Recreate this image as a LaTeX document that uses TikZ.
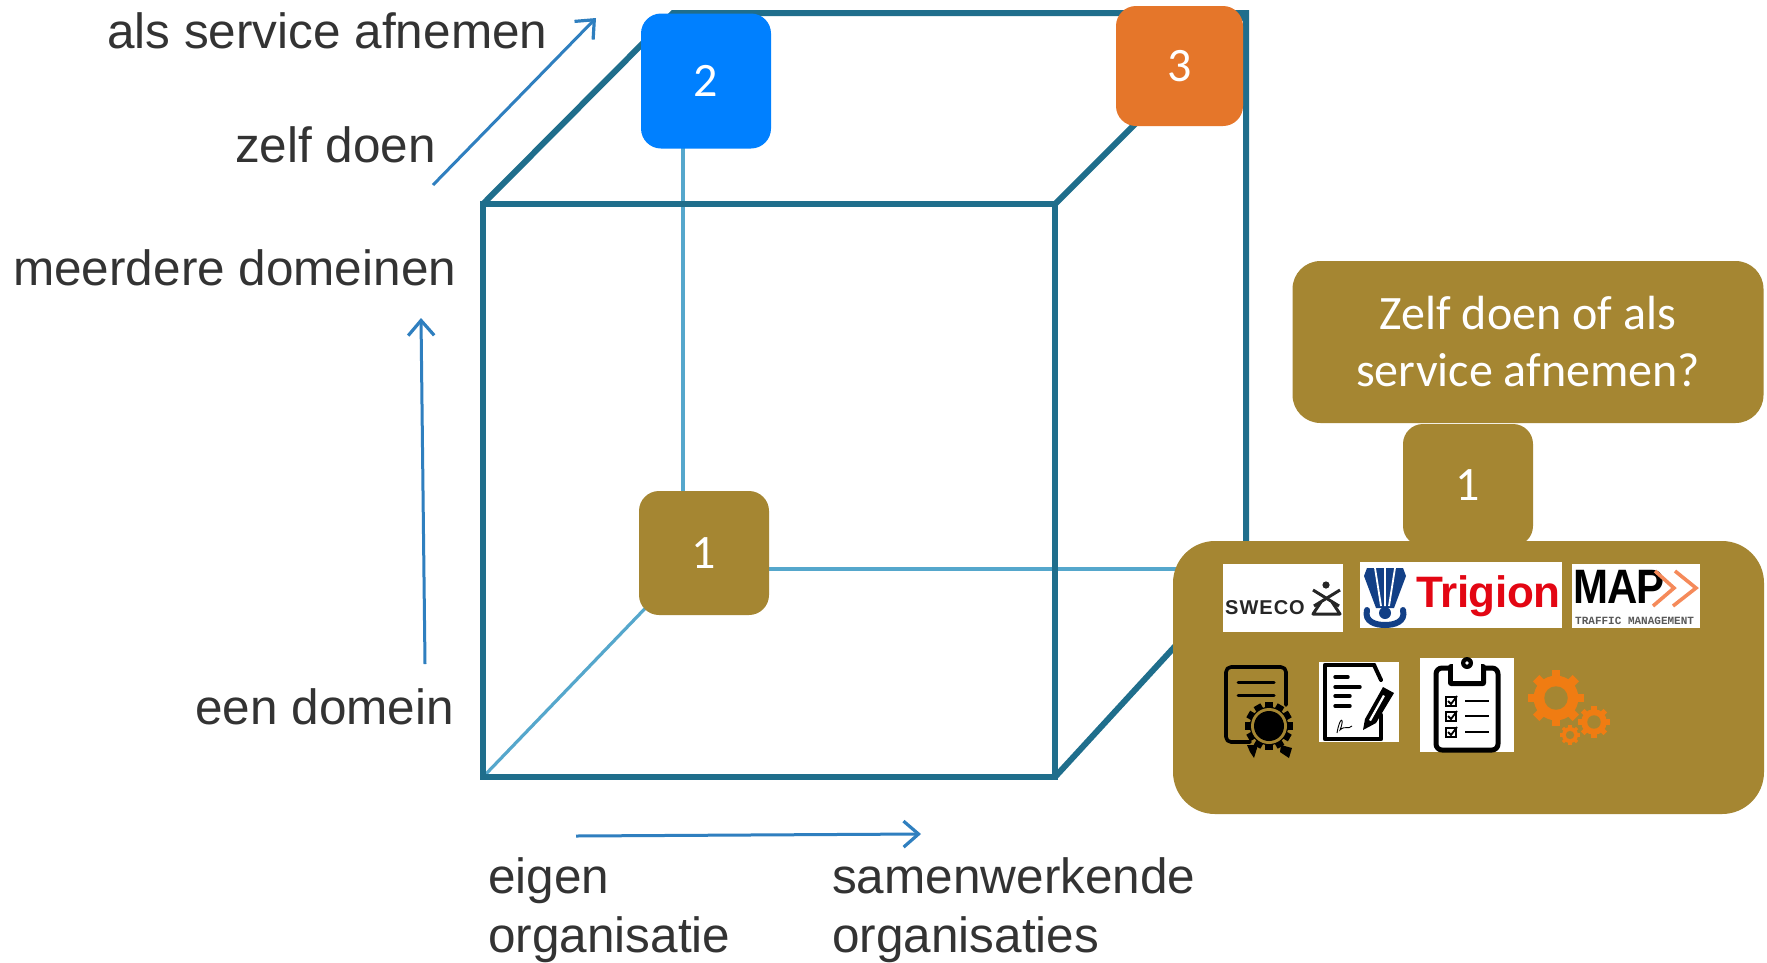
\documentclass[tikz,border=0pt]{standalone}
\usepackage{fontspec}
\setmainfont{Liberation Sans}
\newfontfamily\calib{Carlito}
\newfontfamily\monof{Liberation Mono}
\usetikzlibrary{arrows.meta,calc}
\definecolor{gold}{HTML}{A58632}
\definecolor{boxblue}{HTML}{0080FF}
\definecolor{boxorange}{HTML}{E5762A}
\definecolor{cubeline}{HTML}{1F6E8C}
\definecolor{thinline}{HTML}{55A7CC}
\definecolor{axisblue}{HTML}{2F7FBF}
\definecolor{labelgray}{HTML}{333333}
\definecolor{gearorange}{HTML}{F07C12}
\definecolor{trigred}{HTML}{E30613}
\definecolor{trigblue}{HTML}{123F86}
\definecolor{mapor}{HTML}{F58A5A}
\newcommand{\gearicon}[6]{%
  \foreach \a in {0,#5,...,359} {\fill[#6,rotate around={\a:(#1,#2)}] ($(#1,#2)+(-0.16*#3,0)$) rectangle ($(#1,#2)+(0.16*#3,#3)$);}
  \fill[#6] (#1,#2) circle[radius=0.8*#3];
  \fill[gold] (#1,#2) circle[radius=0.42*#3];
}
\tikzset{
  x=1pt,y=-1pt,
  cube/.style={draw=cubeline,line width=6pt,line join=miter},
  thin edge/.style={draw=thinline,line width=3.2pt},
  axis/.style={draw=axisblue,line width=3pt,-{Straight Barb[length=15pt,width=26pt,line width=3.2pt]}},
  lab/.style={inner sep=0pt,anchor=base west,text=labelgray,font=\fontsize{49.5}{50}\selectfont},
  tag/.style={rounded corners=20pt,inner sep=0pt,text=white,font=\calib\fontsize{48}{56}\selectfont,align=center,minimum width=130pt},
  logo/.style={fill=white,draw=none},
  ink/.style={draw=black,line cap=round,line join=round},
}
\begin{document}
\begin{tikzpicture}
\useasboundingbox (0,0) rectangle (1767,962);
\fill[white] (0,0) rectangle (1767,962);
% cube corners
\coordinate (ftl) at (483,204); \coordinate (ftr) at (1055,204);
\coordinate (fbl) at (483,777); \coordinate (fbr) at (1055,777);
\coordinate (btl) at (673,13);  \coordinate (btr) at (1246,13);
\coordinate (bbl) at (683,569); \coordinate (bbr) at (1246,569);
\coordinate (bvt) at (683,148);
% thin hidden edges
\draw[thin edge] (bvt) -- (bbl);
\draw[thin edge] (bbl) -- (bbr);
\draw[thin edge] (fbl) -- (bbl);
% cube edges
\draw[cube] (ftl) rectangle (fbr);
\draw[cube] (ftl) -- (btl) -- (btr) -- (bbr);
\draw[cube] (ftr) -- (btr);
\draw[cube] (fbr) -- (bbr);
% axes
\coordinate (a1) at (433,185); \coordinate (a2) at (596,18);
\coordinate (b1) at (425,664); \coordinate (b2) at (421,318);
\coordinate (c1) at (576,836); \coordinate (c2) at (921,834);
\draw[axis] (a1) -- (a2);
\draw[axis] (b1) -- (b2);
\draw[axis] (c1) -- (c2);
% labels
\node[lab] (l1) at (107,48) {als service afnemen};
\node[lab] (l2) at (235,162) {zelf doen};
\node[lab] (l3) at (13,285) {meerdere domeinen};
\node[lab] (l4) at (195,724) {een domein};
\node[lab] (l5) at (488,893) {eigen};
\node[lab] (l6) at (488,952) {organisatie};
\node[lab] (l7) at (832,893) {samenwerkende};
\node[lab] (l8) at (832,952) {organisaties};
% number boxes
\node[tag,fill=boxblue,minimum height=135pt] (n2) at (706,81) {2};
\node[tag,fill=boxorange,minimum width=127pt,minimum height=120pt] (n3) at (1179.5,66) {3};
\node[tag,fill=gold,minimum height=124pt] (n1) at (704,553) {1};
% right panel
\node[tag,fill=gold,minimum width=471pt,minimum height=162pt,rounded corners=28pt] (q) at (1528,342) {Zelf doen of als\\[1pt]service afnemen?};
\node[tag,fill=gold,minimum width=591pt,minimum height=273pt,rounded corners=42pt] (panel) at (1468.5,677.5) {};
\node[tag,fill=gold,minimum height=122pt] (n1b) at (1468,485) {1};
% SWECO
\fill[logo] (1223,564) rectangle (1343,632);
\node[inner sep=0pt,anchor=west,font=\bfseries\fontsize{20}{20}\selectfont,text=black!85] (sw) at (1225,608) {S\kern1pt W\kern1pt E\kern1pt C\kern1pt O};
\fill[black!85] (1326,585) circle[radius=3.6];
\draw[black!85,line width=3pt] (1313,590) -- (1339,606);
\draw[black!85,line width=3pt] (1340,590) -- (1314,606);
\draw[black!85,line width=3pt,line join=round] (1321,602) -- (1313,614) -- (1340,614) -- (1332,602);
% Trigion
\fill[logo] (1360,562) rectangle (1562,628);
\node[inner sep=0pt,anchor=west,font=\bfseries\fontsize{44}{44}\selectfont,text=trigred] (tr) at (1416,596) {T\kern-2.5pt r\kern-.5pt i\kern-.5pt g\kern-.5pt i\kern-.5pt o\kern-.5pt n};
\fill[trigblue] (1367,568) -- (1403,568) -- (1406,576) -- (1394,608) -- (1376,608) -- (1364,576) -- cycle;
\draw[white,line width=1.8pt] (1375,568) -- (1381,606) (1395,568) -- (1389,606) (1385,568) -- (1385,606);
\fill[trigblue] (1385,613) circle[radius=6];
\draw[trigblue,line width=6pt,line cap=round] (1367,610) .. controls (1364,622) and (1376,625) .. (1385,625) .. controls (1394,625) and (1406,622) .. (1403,610);
% MAP
\fill[logo] (1572,564) rectangle (1700,628);
\node[inner sep=0pt,anchor=west,yscale=1.15,font=\bfseries\fontsize{42}{42}\selectfont,text=black] (mp) at (1573,587) {M\kern-1pt A\kern-1pt P};
\draw[mapor,line width=3.6pt] (1655,571) -- (1674,588) -- (1653,606);
\draw[mapor,line width=3.6pt] (1675,571) -- (1696,588) -- (1673,606);
\node[inner sep=0pt,anchor=west,font=\monof\bfseries\fontsize{11}{11}\selectfont,text=black!65] (mt) at (1575,621) {TRAFFIC MANAGEMENT};
% certificate
\draw[ink,line width=3.6pt,rounded corners=5pt] (1250,742) -- (1226,742) -- (1226,667) -- (1286,667) -- (1286,705);
\draw[ink,line width=3pt] (1238,682) -- (1274,682) (1238,695) -- (1274,695);
\fill[black] (1247,745) -- (1258,745) -- (1254,758) -- (1250,752) -- cycle;
\fill[black] (1281,745) -- (1292,748) -- (1289,758) -- (1280,752) -- cycle;
\gearicon{1269}{726}{24}{0}{30}{black}
\fill[gold] (1269,726) circle[radius=18];
\fill[black] (1269,726) circle[radius=15];
% signed document
\fill[logo] (1319,662) rectangle (1399,742);
\draw[ink,line width=4.5pt] (1374,665) -- (1325,665) -- (1325,739) -- (1381,739) -- (1381,715);
\draw[ink,line width=4pt] (1374,665) -- (1381,680);
\draw[ink,line width=3.4pt] (1335,677) -- (1348,677) (1335,687) -- (1360,687) (1335,696) -- (1350,696) (1335,706) -- (1350,706);
\draw[black,line width=0.9pt] (1337,733) .. controls (1340,715) and (1345,718) .. (1340,730) .. controls (1345,725) and (1348,730) .. (1352,726);
\fill[black] (1363,730) -- (1365,719) -- (1383,687) -- (1394,693) -- (1376,723) -- cycle;
\fill[white] (1369,720) -- (1383,695) -- (1385,696) -- (1371,721) -- cycle;
% clipboard
\fill[logo] (1420,658) rectangle (1514,752);
\draw[ink,line width=5pt,rounded corners=6pt] (1436,668) rectangle (1498,750);
\fill[black,rounded corners=3pt] (1448,664) rectangle (1486,686);
\fill[white] (1453,664) rectangle (1481,681);
\fill[black] (1467,663) circle[radius=6];
\fill[white] (1467,663) circle[radius=1.8];
\foreach \yy in {701,716,732} {
  \draw[black,line width=1.5pt] (1446,\yy-4) rectangle (1456,\yy+5);
  \draw[black,line width=1.8pt] (1448,\yy) -- (1451,\yy+3) -- (1457,\yy-5);
  \draw[black,line width=2.4pt] (1465,\yy) -- (1489,\yy);
}
% gears
\gearicon{1556}{698}{28}{0}{45}{gearorange}
\gearicon{1594}{722}{16}{0}{45}{gearorange}
\gearicon{1570}{735}{10}{0}{45}{gearorange}
\end{tikzpicture}
\end{document}
